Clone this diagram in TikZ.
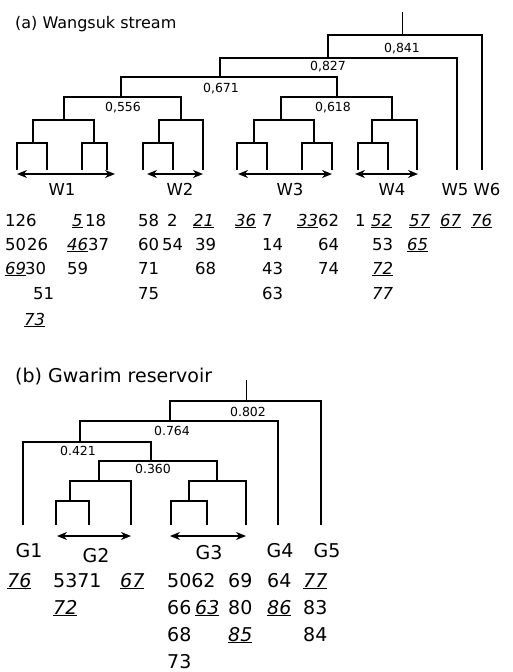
\documentclass[tikz,border=0pt]{standalone}
\usepackage{fontspec}
\setmainfont{DejaVu Sans}
\usetikzlibrary{arrows.meta}
\newcommand\unum[1]{\underline{\textit{#1}}}
\begin{document}
\begin{tikzpicture}[x=1pt,y=-1pt,
  dend/.style={line width=2pt},
  dendb/.style={line width=1.6pt},
  thinline/.style={line width=1pt},
  twoarrow/.style={line width=1.6pt,{Stealth[length=10pt,width=8pt]}-{Stealth[length=10pt,width=8pt]}},
  numa/.style={inner sep=0pt,anchor=base west,font=\fontsize{16.5}{18}\selectfont},
  numb/.style={inner sep=0pt,anchor=base west,font=\fontsize{19}{21}\selectfont},
  grpa/.style={inner sep=0pt,anchor=base,font=\fontsize{16.5}{18}\selectfont},
  grpb/.style={inner sep=0pt,anchor=base,font=\fontsize{19}{21}\selectfont},
  deca/.style={inner sep=0pt,anchor=base,font=\fontsize{12.5}{13}\selectfont},
  ttla/.style={inner sep=0pt,anchor=base west,font=\fontsize{16}{18}\selectfont},
  ttlb/.style={inner sep=0pt,anchor=base west,font=\fontsize{19}{21}\selectfont}]
\useasboundingbox (0,0) rectangle (512,672);
\fill[white] (0,0) rectangle (512,672);

% ================= (a) =================
\node[ttla] (ta) at (15,28) {(a) Wangsuk stream};
\foreach \n/\x in {1/17,2/47,3/82,4/107,5/143,6/173,7/203,8/237,9/267,10/302,11/332,12/358,13/388,14/417,15/457,16/482}
  \coordinate (a\n) at (\x,170);
\coordinate (n1) at (33,143);
\coordinate (n2) at (94,143);
\coordinate (n3) at (64,120);
\coordinate (n4) at (159,143);
\coordinate (n5) at (181,120);
\coordinate (n6) at (121,97);
\coordinate (n7) at (254,143);
\coordinate (n8) at (314,143);
\coordinate (n9) at (281,120);
\coordinate (n10) at (372,143);
\coordinate (n11) at (392,120);
\coordinate (n12) at (337,97);
\coordinate (n13) at (220,77);
\coordinate (n14) at (328,58);
\coordinate (n15) at (402,35);
\coordinate (rta) at (402,12);
\draw[dend] (a1) |- (n1) -| (a2);
\draw[dend] (a3) |- (n2) -| (a4);
\draw[dend] (n1) |- (n3) -| (n2);
\draw[dend] (a5) |- (n4) -| (a6);
\draw[dend] (n4) |- (n5) -| (a7);
\draw[dend] (n3) |- (n6) -| (n5);
\draw[dend] (a8) |- (n7) -| (a9);
\draw[dend] (a10) |- (n8) -| (a11);
\draw[dend] (n7) |- (n9) -| (n8);
\draw[dend] (a12) |- (n10) -| (a13);
\draw[dend] (n10) |- (n11) -| (a14);
\draw[dend] (n9) |- (n12) -| (n11);
\draw[dend] (n6) |- (n13) -| (n12);
\draw[dend] (n13) |- (n14) -| (a15);
\draw[dend] (n14) |- (n15) -| (a16);
\draw[thinline] (n15) -- (rta);
\node[deca] (d841) at (402,52.5) {0,841};
\node[deca] (d827) at (328,70.5) {0,827};
\node[deca] (d671) at (221,92.5) {0,671};
\node[deca] (d556) at (123,111.5) {0,556};
\node[deca] (d618) at (333,111.5) {0,618};
\coordinate (w1l) at (17,174); \coordinate (w1r) at (115,174);
\coordinate (w2l) at (147,174); \coordinate (w2r) at (203,174);
\coordinate (w3l) at (238,174); \coordinate (w3r) at (332,174);
\coordinate (w4l) at (355,174); \coordinate (w4r) at (418,174);
\draw[twoarrow] (w1l) -- (w1r);
\draw[twoarrow] (w2l) -- (w2r);
\draw[twoarrow] (w3l) -- (w3r);
\draw[twoarrow] (w4l) -- (w4r);
\node[grpa] (W1) at (62,195) {W1};
\node[grpa] (W2) at (180,195) {W2};
\node[grpa] (W3) at (290,195) {W3};
\node[grpa] (W4) at (392,195) {W4};
\node[grpa] (W5) at (455,195) {W5};
\node[grpa] (W6) at (487,195) {W6};
\node[numa] (r1a) at (5,226) {126};
\node[numa] (r1b) at (72,226) {\unum{5}};
\node[numa] (r1c) at (85,226) {18};
\node[numa] (r1d) at (138,226) {58};
\node[numa] (r1e) at (167,226) {2};
\node[numa] (r1f) at (193,226) {\unum{21}};
\node[numa] (r1g) at (235,226) {\unum{36}};
\node[numa] (r1h) at (262,226) {7};
\node[numa] (r1i) at (297,226) {\unum{33}};
\node[numa] (r1j) at (318,226) {62};
\node[numa] (r1k) at (355,226) {1};
\node[numa] (r1l) at (371,226) {\unum{52}};
\node[numa] (r1m) at (409,226) {\unum{57}};
\node[numa] (r1n) at (440,226) {\unum{67}};
\node[numa] (r1o) at (471,226) {\unum{76}};
\node[numa] (r2a) at (5,250) {50};
\node[numa] (r2b) at (27,250) {26};
\node[numa] (r2c) at (67,250) {\unum{46}};
\node[numa] (r2d) at (88,250) {37};
\node[numa] (r2e) at (138,250) {60};
\node[numa] (r2f) at (162,250) {54};
\node[numa] (r2g) at (195,250) {39};
\node[numa] (r2h) at (262,250) {14};
\node[numa] (r2i) at (318,250) {64};
\node[numa] (r2j) at (372,250) {53};
\node[numa] (r2k) at (407,250) {\unum{65}};
\node[numa] (r3a) at (5,274) {\unum{69}};
\node[numa] (r3b) at (25,274) {30};
\node[numa] (r3c) at (67,274) {59};
\node[numa] (r3d) at (138,274) {71};
\node[numa] (r3e) at (195,274) {68};
\node[numa] (r3f) at (262,274) {43};
\node[numa] (r3g) at (318,274) {74};
\node[numa] (r3h) at (372,274) {\unum{72}};
\node[numa] (r4a) at (33,299) {51};
\node[numa] (r4b) at (138,299) {75};
\node[numa] (r4c) at (262,299) {63};
\node[numa] (r4d) at (372,299) {\textit{77}};
\node[numa] (r5a) at (24,325) {\unum{73}};

% ================= (b) =================
\node[ttlb] (tb) at (15,382) {(b) Gwarim reservoir};
\foreach \n/\x in {1/23,2/56,3/89,4/131,5/171,6/207,7/246,8/278,9/321}
  \coordinate (b\n) at (\x,525);
\coordinate (m1) at (70,501);
\coordinate (m2) at (99,481);
\coordinate (m3) at (189,501);
\coordinate (m4) at (217,481);
\coordinate (m5) at (151,461);
\coordinate (m6) at (80,442);
\coordinate (m7) at (170,421);
\coordinate (m8) at (246,401);
\coordinate (rtb) at (246,380);
\draw[dendb] (b2) |- (m1) -| (b3);
\draw[dendb] (m1) |- (m2) -| (b4);
\draw[dendb] (b5) |- (m3) -| (b6);
\draw[dendb] (m3) |- (m4) -| (b7);
\draw[dendb] (m2) |- (m5) -| (m4);
\draw[dendb] (b1) |- (m6) -| (m5);
\draw[dendb] (m6) |- (m7) -| (b8);
\draw[dendb] (m7) |- (m8) -| (b9);
\draw[thinline] (m8) -- (rtb);
\node[deca] (d802) at (248,416.5) {0.802};
\node[deca] (d764) at (172,435.5) {0.764};
\node[deca] (d421) at (78,455.5) {0.421};
\node[deca] (d360) at (153,473.5) {0.360};
\coordinate (g2l) at (57,536); \coordinate (g2r) at (131,536);
\coordinate (g3l) at (170,536); \coordinate (g3r) at (246,536);
\draw[twoarrow] (g2l) -- (g2r);
\draw[twoarrow] (g3l) -- (g3r);
\node[grpb] (G1) at (29,557) {G1};
\node[grpb] (G2) at (96,562) {G2};
\node[grpb] (G3) at (209,559) {G3};
\node[grpb] (G4) at (280,557) {G4};
\node[grpb] (G5) at (327,557) {G5};
\node[numb] (s1a) at (7,587) {\unum{76}};
\node[numb] (s1b) at (53,587) {5371};
\node[numb] (s1c) at (120,587) {\unum{67}};
\node[numb] (s1d) at (167,587) {5062};
\node[numb] (s1e) at (228,587) {69};
\node[numb] (s1f) at (267,587) {64};
\node[numb] (s1g) at (303,587) {\unum{77}};
\node[numb] (s2a) at (53,614) {\unum{72}};
\node[numb] (s2b) at (167,614) {66};
\node[numb] (s2c) at (195,614) {\unum{63}};
\node[numb] (s2d) at (228,614) {80};
\node[numb] (s2e) at (267,614) {\unum{86}};
\node[numb] (s2f) at (303,614) {83};
\node[numb] (s3a) at (167,641) {68};
\node[numb] (s3b) at (228,641) {\unum{85}};
\node[numb] (s3c) at (303,641) {84};
\node[numb] (s4a) at (167,668) {73};
\end{tikzpicture}
\end{document}
